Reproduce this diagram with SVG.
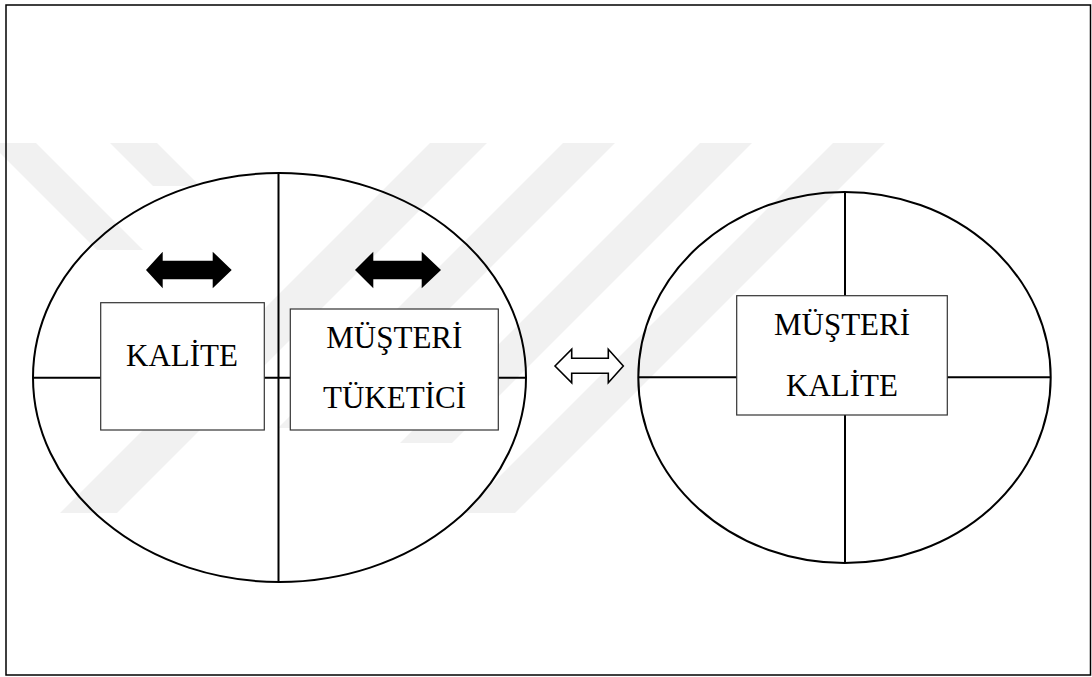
<svg xmlns="http://www.w3.org/2000/svg" width="1092" height="677" viewBox="0 0 1092 677">
  <style>
    .wm { fill: #f1f1f1; stroke: none; }
    .frame { fill: none; stroke: #000; stroke-width: 1.5; }
    .oval { fill: none; stroke: #000; stroke-width: 2; }
    .axis { stroke: #000; stroke-width: 2; fill: none; }
    .box { fill: #fff; stroke: #333; stroke-width: 1.2; }
    .label { font-family: "Liberation Serif", "Times New Roman", serif; font-size: 31px; fill: #000; text-anchor: middle; }
    .solid { fill: #000; stroke: none; }
    .hollow { fill: #fff; stroke: #000; stroke-width: 1.6; stroke-linejoin: miter; }
  </style>

  <rect width="1092" height="677" fill="#fff"/>

  <!-- faint striped background mark -->
  <g id="watermark">
    <polygon class="wm" points="-10,143 36,143 143,250 97,250"/>
    <polygon class="wm" points="110,143 157,143 200,186 153,186"/>
    <polygon class="wm" points="430,143 487,143 117,513 60,513"/>
    <polygon class="wm" points="563,143 615,143 330,428 278,428"/>
    <polygon class="wm" points="700,143 752,143 452,443 400,443"/>
    <polygon class="wm" points="833,143 885,143 515,513 463,513"/>
  </g>

  <rect id="frame" class="frame" x="6" y="5" width="1084.5" height="670"/>

  <!-- left oval split into quadrants -->
  <g id="left-oval">
    <ellipse class="oval" cx="279.5" cy="377.5" rx="246.5" ry="204.5"/>
    <line class="axis" x1="278.5" y1="173" x2="278.5" y2="582"/>
    <line class="axis" x1="33" y1="377.7" x2="526" y2="377.7"/>
  </g>

  <!-- right oval split into quadrants -->
  <g id="right-oval">
    <ellipse class="oval" cx="844.5" cy="377.5" rx="206.2" ry="185.5"/>
    <line class="axis" x1="845" y1="192" x2="845" y2="563"/>
    <line class="axis" x1="638.3" y1="377.3" x2="1050.7" y2="377.3"/>
  </g>

  <g id="box-kalite">
    <rect class="box" x="100.7" y="302.7" width="163.6" height="127.3"/>
    <text class="label" x="182" y="366">KALİTE</text>
  </g>

  <g id="box-musteri-tuketici">
    <rect class="box" x="290.3" y="309" width="208" height="121"/>
    <text class="label" x="394.3" y="348.3">MÜŞTERİ</text>
    <text class="label" x="394.5" y="408.3">TÜKETİCİ</text>
  </g>

  <g id="box-musteri-kalite">
    <rect class="box" x="736.7" y="295.7" width="210.6" height="119.3"/>
    <text class="label" x="842" y="335">MÜŞTERİ</text>
    <text class="label" x="842" y="396">KALİTE</text>
  </g>

  <!-- two-way arrows -->
  <g id="connectors">
    <polygon class="solid" points="146,270 162.7,251.7 162.7,260.7 212.7,260.7 212.7,251.7 231.7,270 212.7,288.3 212.7,279.3 162.7,279.3 162.7,288.3"/>
    <polygon class="solid" points="355,270 373.3,251.7 373.3,260.7 421.7,260.7 421.7,251.7 441,270 421.7,288.3 421.7,279.3 373.3,279.3 373.3,288.3"/>
    <polygon class="hollow" points="555,366 571.7,349.3 571.7,358.3 608.3,358.3 608.3,349.3 623.3,366 608.3,382.7 608.3,373.3 571.7,373.3 571.7,382.7"/>
  </g>
</svg>
